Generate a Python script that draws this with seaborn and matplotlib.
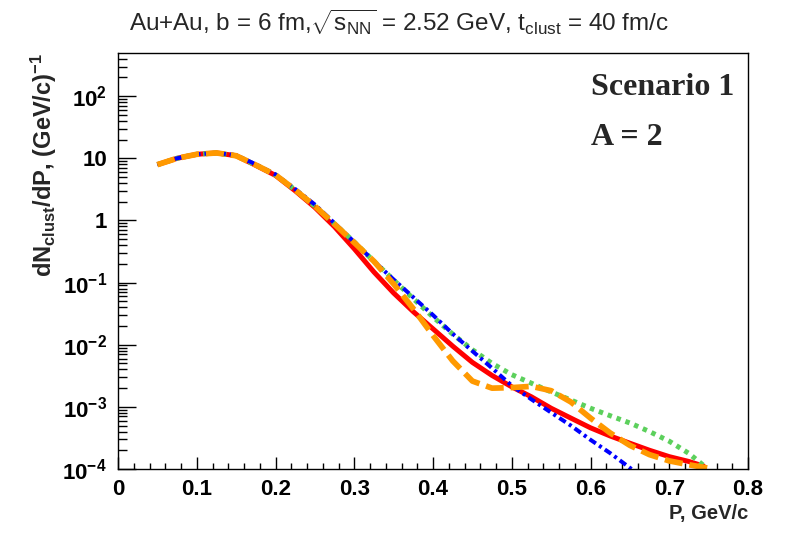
import math
import matplotlib
matplotlib.use("Agg")
import matplotlib.pyplot as plt
import matplotlib.ticker as mticker
import seaborn as sns
import pandas as pd

# ---------------- data ----------------
p_grid = [0.05, 0.075, 0.10, 0.125, 0.15, 0.175, 0.20, 0.225, 0.25,
          0.275, 0.30, 0.325, 0.35, 0.375, 0.40, 0.425, 0.45, 0.475,
          0.50, 0.525, 0.55, 0.575, 0.60, 0.625, 0.65, 0.675, 0.70,
          0.725, 0.745]

red_vals = [7.9, 10.0, 11.6, 12.2, 11.0, 7.7, 5.3, 3.0, 1.62,
            0.79, 0.35, 0.148, 0.068, 0.034, 0.018, 9.5e-3, 5.2e-3, 3.2e-3,
            2.1e-3, 1.45e-3, 9.5e-4, 6.6e-4, 4.6e-4, 3.4e-4, 2.6e-4, 2.0e-4, 1.58e-4,
            1.32e-4, 1.1e-4]

blue_p = [0.05, 0.075, 0.10, 0.125, 0.15, 0.175, 0.20, 0.225, 0.25,
          0.275, 0.30, 0.325, 0.35, 0.375, 0.40, 0.425, 0.45, 0.475,
          0.50, 0.525, 0.55, 0.575, 0.60, 0.625, 0.652]
blue_vals = [7.9, 10.0, 11.6, 12.2, 11.2, 8.0, 5.5, 3.2, 1.8,
             0.9, 0.45, 0.22, 0.112, 0.058, 0.030, 0.015, 7.9e-3, 4.2e-3,
             2.2e-3, 1.32e-3, 8.1e-4, 5.0e-4, 2.95e-4, 1.8e-4, 1.0e-4]

green_vals = [7.9, 10.0, 11.6, 12.2, 11.0, 7.8, 5.4, 3.1, 1.7,
              0.88, 0.45, 0.22, 0.11, 0.055, 0.028, 0.0148, 8.3e-3, 5.0e-3,
              3.3e-3, 2.4e-3, 1.74e-3, 1.29e-3, 9.5e-4, 7.2e-4, 5.5e-4, 4.0e-4, 2.8e-4,
              1.78e-4, 1.1e-4]

orange_p = [0.05, 0.075, 0.10, 0.125, 0.15, 0.175, 0.20, 0.225, 0.25,
            0.275, 0.30, 0.325, 0.35, 0.375, 0.40, 0.425, 0.45, 0.475,
            0.50, 0.525, 0.55, 0.575, 0.60, 0.625, 0.65, 0.675, 0.70,
            0.725, 0.75]
orange_vals = [7.9, 10.0, 11.6, 12.2, 11.0, 7.8, 5.4, 3.1, 1.7,
               0.87, 0.44, 0.22, 0.095, 0.038, 0.0141, 5.5e-3, 2.6e-3, 2.0e-3,
               2.04e-3, 2.14e-3, 1.82e-3, 1.2e-3, 6.6e-4, 3.8e-4, 2.4e-4, 1.7e-4, 1.35e-4,
               1.17e-4, 1.03e-4]

x_ticks = [0, 0.1, 0.2, 0.3, 0.4, 0.5, 0.6, 0.7, 0.8]
y_ticks = [1e-4, 1e-3, 1e-2, 1e-1, 1, 10, 100]
title_text = r'Au+Au, b = 6 fm,$\sqrt{\mathrm{s}_{\rm NN}}$ = 2.52 GeV, t$_{\rm clust}$ = 40 fm/c'
xlabel_text = 'P, GeV/c'
ylabel_text = r'dN$_{\mathbf{clust}}$/dP, (GeV/c)$^{\mathbf{-1}}$'
annot1 = 'Scenario 1'
annot2 = 'A = 2'

# ---------------- style ----------------
sns.set_style("ticks")
plt.rcParams['font.family'] = ['Liberation Sans', 'DejaVu Sans']
plt.rcParams['mathtext.fontset'] = 'custom'
plt.rcParams['mathtext.rm'] = 'Liberation Sans'
plt.rcParams['mathtext.it'] = 'Liberation Sans:italic'
plt.rcParams['mathtext.bf'] = 'Liberation Sans:bold'
plt.rcParams['lines.scale_dashes'] = False
plt.rcParams['axes.unicode_minus'] = True

fig = plt.figure(figsize=(7.88, 5.34), dpi=100)
ax = fig.add_axes([118 / 788, 65 / 534, 630 / 788, 416 / 534])

df_red = pd.DataFrame({'P': p_grid, 'v': red_vals})
df_green = pd.DataFrame({'P': p_grid, 'v': green_vals})
df_blue = pd.DataFrame({'P': blue_p, 'v': blue_vals})
df_orange = pd.DataFrame({'P': orange_p, 'v': orange_vals})

sns.lineplot(data=df_red, x='P', y='v', ax=ax, color='#ff0000', lw=3.6,
             solid_capstyle='butt', sort=False)
sns.lineplot(data=df_green, x='P', y='v', ax=ax, color='#5cd05c', lw=3.6, sort=False)
ax.lines[-1].set_dashes((3.2, 3.6))
ax.lines[-1].set_dash_capstyle('butt')
sns.lineplot(data=df_blue, x='P', y='v', ax=ax, color='#0000ff', lw=2.9, sort=False)
ax.lines[-1].set_dashes((5.5, 2.8, 2.2, 2.8))
ax.lines[-1].set_dash_capstyle('butt')
sns.lineplot(data=df_orange, x='P', y='v', ax=ax, color='#ff9900', lw=4.1, sort=False)
ax.lines[-1].set_dashes((13.0, 5.0))
ax.lines[-1].set_dash_capstyle('butt')

ax.set_yscale('log')
ax.set_xlim(0, 0.8)
ax.set_ylim(1e-4, 495)

# ticks
ax.xaxis.set_major_locator(mticker.FixedLocator(x_ticks))
ax.xaxis.set_minor_locator(mticker.MultipleLocator(0.02))
ax.xaxis.set_major_formatter(mticker.FuncFormatter(lambda v, pos: '0' if abs(v) < 1e-9 else f'{v:.1f}'))
ax.yaxis.set_major_locator(mticker.FixedLocator(y_ticks))
ax.yaxis.set_minor_locator(mticker.LogLocator(base=10, subs=[2, 3, 4, 5, 6, 7, 8, 9], numticks=20))


def yfmt(v, pos):
    e = int(round(math.log10(v)))
    if e == 0:
        return '1'
    if e == 1:
        return '10'
    return r'10$^{\mathbf{%d}}$' % e


ax.yaxis.set_major_formatter(mticker.FuncFormatter(yfmt))
ax.yaxis.set_minor_formatter(mticker.NullFormatter())

ax.tick_params(axis='both', which='both', direction='in', top=False, right=False,
               colors='black', width=1.0)
ax.tick_params(axis='x', which='major', length=9, labelsize=16, pad=7)
ax.tick_params(axis='x', which='minor', length=4.5)
ax.tick_params(axis='y', which='major', length=13, labelsize=16, pad=8)
ax.tick_params(axis='y', which='minor', length=6.5)
for lab in ax.get_xticklabels() + ax.get_yticklabels():
    lab.set_fontweight('bold')

for s in ax.spines.values():
    s.set_visible(True)
    s.set_color('black')
    s.set_linewidth(1.0)

ax.set_xlabel(xlabel_text, fontsize=14.5, fontweight='bold', loc='right')
ax.xaxis.set_label_coords(1.0, -0.085)
ax.set_ylabel(ylabel_text, fontsize=17, fontweight='bold', loc='top')
ax.yaxis.set_label_coords(-0.093, 1.0)

fig.text(399 / 788, 1 - 22 / 534, title_text, ha='center', va='center', fontsize=17.5)

ax.text(591 / 788, 1 - 95 / 534, annot1, transform=fig.transFigure, ha='left',
        va='baseline', fontsize=23, fontweight='bold', family=['Liberation Serif', 'DejaVu Serif'])
ax.text(591 / 788, 1 - 145 / 534, annot2, transform=fig.transFigure, ha='left',
        va='baseline', fontsize=23, fontweight='bold', family=['Liberation Serif', 'DejaVu Serif'])

fig.savefig('out.png', dpi=100, facecolor='white')
